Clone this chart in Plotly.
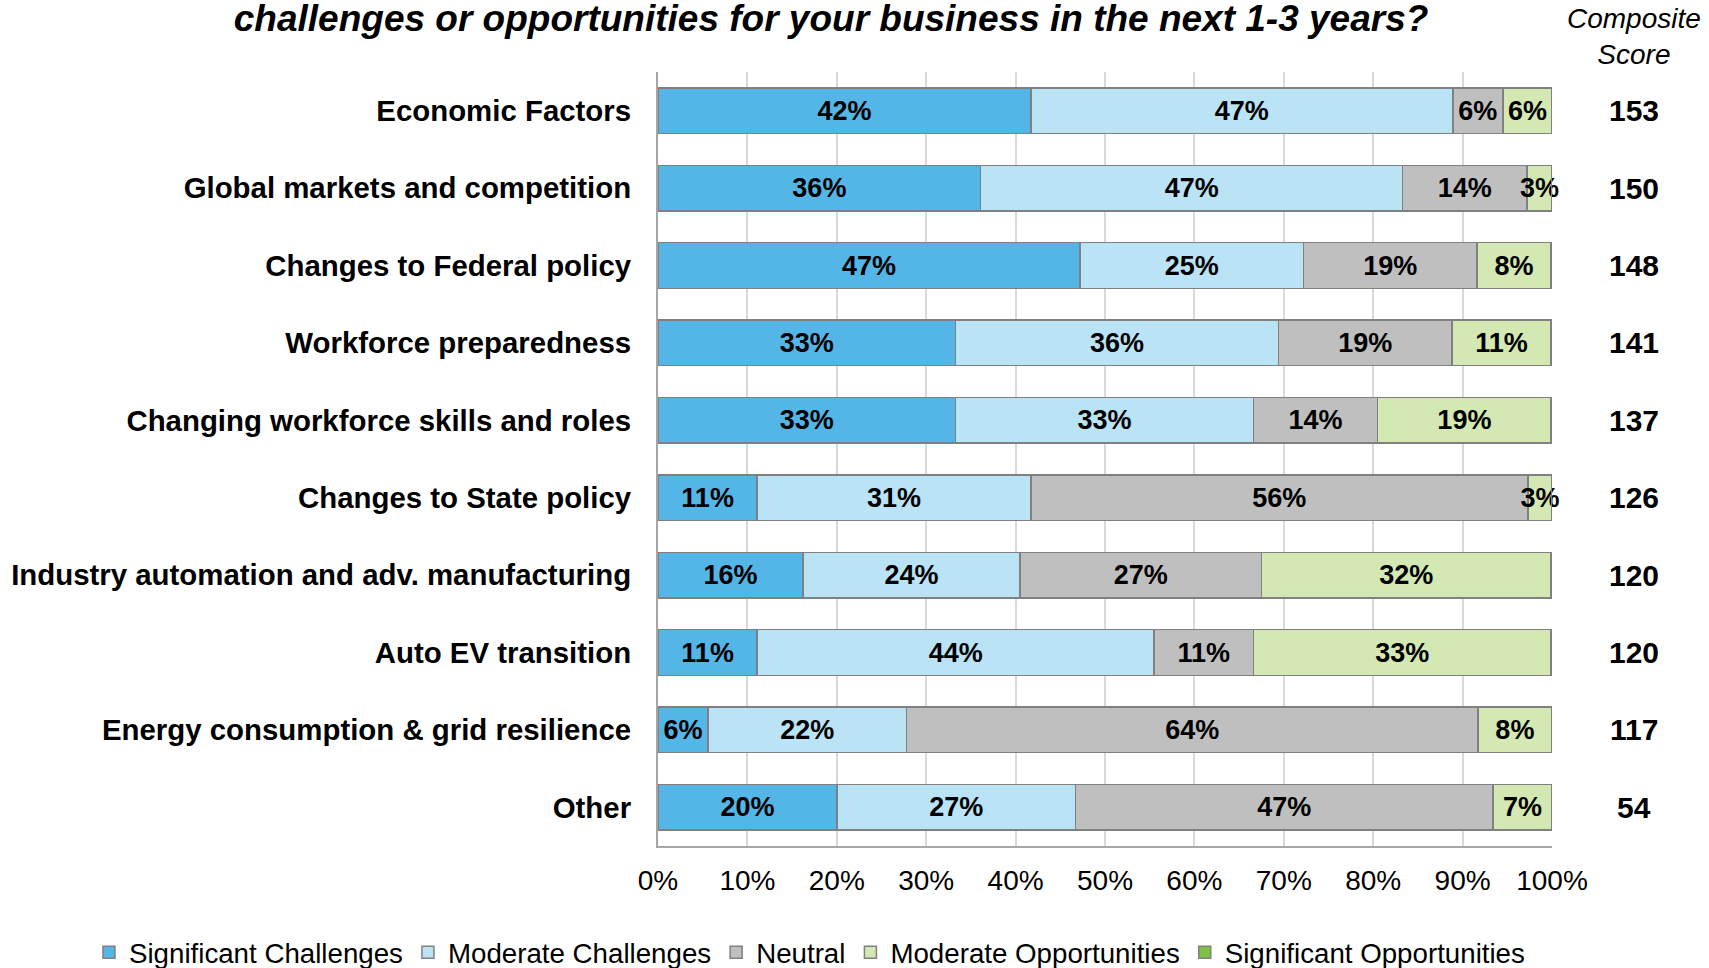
import plotly.graph_objects as go

categories = ["Economic Factors", "Global markets and competition", "Changes to Federal policy",
              "Workforce preparedness", "Changing workforce skills and roles", "Changes to State policy",
              "Industry automation and adv. manufacturing", "Auto EV transition",
              "Energy consumption & grid resilience", "Other"]

significant_challenges = [41.7, 36.1, 47.2, 33.3, 33.3, 11.1, 16.2, 11.1, 5.6, 20.0]
moderate_challenges = [47.2, 47.2, 25.0, 36.1, 33.3, 30.6, 24.3, 44.4, 22.2, 26.7]
neutral = [5.6, 13.9, 19.4, 19.4, 13.9, 55.6, 27.0, 11.1, 63.9, 46.7]
moderate_opportunities = [5.5, 2.8, 8.3, 11.1, 19.4, 2.7, 32.4, 33.3, 8.3, 6.6]
significant_opportunities = [0, 0, 0, 0, 0, 0, 0, 0, 0, 0]

composite_scores = [153, 150, 148, 141, 137, 126, 120, 120, 117, 54]

series = [
    ("Significant Challenges", significant_challenges, "#53B6E7", True),
    ("Moderate Challenges", moderate_challenges, "#BAE3F5", True),
    ("Neutral", neutral, "#BFBFBF", True),
    ("Moderate Opportunities", moderate_opportunities, "#D4E8B4", True),
    ("Significant Opportunities", significant_opportunities, "#7DC242", False),
]

FONT = "Liberation Sans, Arial, sans-serif"

fig = go.Figure()
for name, vals, color, show_text in series:
    fig.add_trace(go.Bar(
        y=categories, x=vals, name=name, orientation="h",
        marker=dict(color=color, line=dict(color="#808080", width=1.5)),
        text=[f"{v:.0f}%" for v in vals] if show_text else None,
        textposition="inside", insidetextanchor="middle", textangle=0,
        textfont=dict(family=FONT, size=27, color="black", weight="bold"),
        cliponaxis=False,
        hoverinfo="x+y+name",
    ))

SCORE_X = 1.0917
for cat, score in zip(categories, composite_scores):
    fig.add_annotation(x=SCORE_X, xref="paper", y=cat, yref="y", text=f"<b>{score}</b>",
                       showarrow=False, font=dict(family=FONT, size=30, color="black"),
                       xanchor="center", yanchor="middle")

fig.add_annotation(x=SCORE_X, xref="paper", y=1.046, yref="paper", yanchor="middle", xanchor="center",
                   text="<i>Composite</i><br><i>Score</i>", showarrow=False,
                   font=dict(family=FONT, size=28, color="black"), align="center")

fig.update_layout(
    width=1709, height=968,
    paper_bgcolor="white", plot_bgcolor="white",
    barmode="stack", bargap=0.41,
    margin=dict(l=658, r=157, t=72, b=122, autoexpand=False),
    title=dict(text="<b><i>challenges or opportunities for your business in the next 1-3 years?</i></b>",
               x=0.4863, xanchor="center", y=0.9814, yanchor="middle", pad=dict(t=0, b=0),
               font=dict(family=FONT, size=37, color="black")),
    uniformtext=dict(minsize=27, mode="show"),
    showlegend=True,
    legend=dict(orientation="h", x=-0.6365, xanchor="left",
                y=-0.138, yanchor="middle",
                font=dict(family=FONT, size=27.7, color="black"), traceorder="normal",
                itemwidth=30),
    font=dict(family=FONT, color="black"),
)
fig.update_xaxes(range=[0, 100.001], tickvals=list(range(0, 101, 10)),
                 ticktext=[f"{v}%" for v in range(0, 101, 10)], showgrid=True, gridcolor="#D9D9D9",
                 gridwidth=1.5, showline=True, linecolor="#A6A6A6", linewidth=2, zeroline=False,
                 ticks="", tickfont=dict(family=FONT, size=28, color="black"), ticklabelstandoff=8,
                 automargin=False)
fig.update_yaxes(autorange="reversed", showline=True, linecolor="#A6A6A6", linewidth=2,
                 ticks="", tickfont=dict(family=FONT, size=29.4, color="black", weight="bold"),
                 ticklabelstandoff=19, automargin=False)

fig.write_html("out.html", config={"displayModeBar": False},
               post_script="document.body.style.margin='0px';document.body.style.overflow='hidden';")
